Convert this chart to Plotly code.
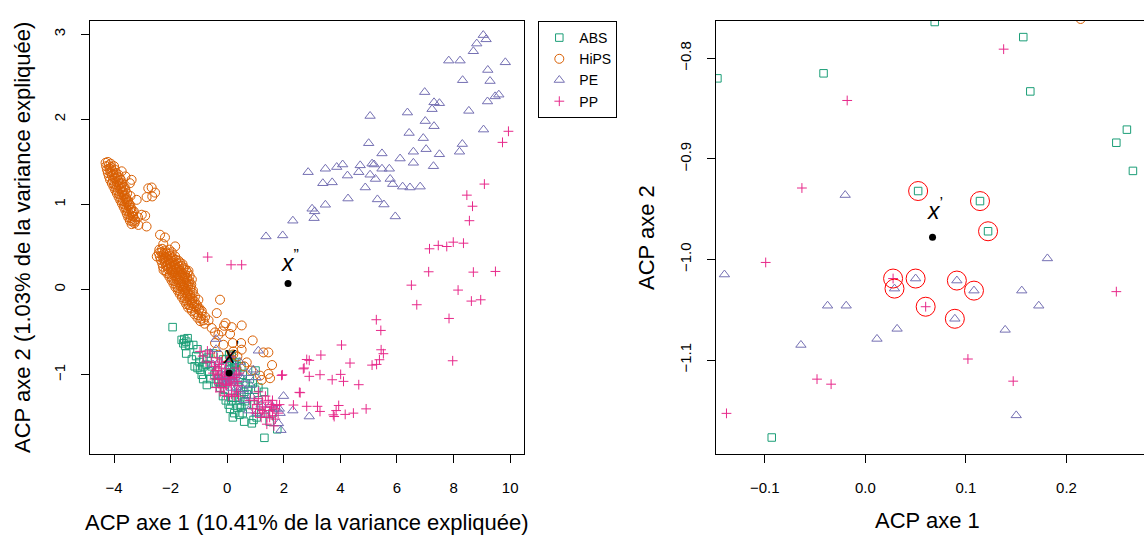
import plotly.graph_objects as go

# ---------------- data ----------------
CLASS_NAMES = ["ABS", "HiPS", "PE", "PP"]
CLASS_COLORS = ["#1B9E77", "#D95F02", "#7570B3", "#E7298A"]

ABS_PTS = [
    (-1.93, -0.44), (-1.61, -0.59), (-1.52, -0.58), (-1.45, -0.61), (-1.55, -0.63), (-1.40, -0.57),
    (-1.48, -0.66), (-1.35, -0.65), (-1.25, -0.82), (-0.98, -0.85), (-0.84, -0.82), (-0.72, -1.12),
    (-0.96, -0.94), (-0.66, -0.96), (-0.84, -0.90), (-1.10, -0.78), (-1.05, -0.92), (-0.90, -1.00),
    (-0.75, -0.88), (-0.60, -1.05), (-0.55, -0.90), (-0.45, -1.00), (-0.40, -1.10), (-0.35, -0.95),
    (-0.30, -1.05), (-0.25, -1.15), (-0.20, -1.10), (-0.31, -1.08), (0.10, -1.40), (0.43, -1.47),
    (0.36, -1.39), (0.45, -1.35), (0.63, -1.31), (0.87, -1.57), (1.77, -1.64), (1.315, -1.74),
    (0.985, -1.175), (0.18, -1.27), (0.33, -1.27), (0.50, -1.24), (0.69, -1.23), (0.93, -1.53),
    (1.04, -1.50), (0.75, -1.175), (0.35, -0.95), (0.45, -1.05), (0.55, -1.00), (0.65, -1.10),
    (0.40, -1.15), (0.32, -0.85), (0.50, -0.90), (0.80, -1.05), (0.90, -1.10), (0.60, -1.20),
    (0.15, -1.30), (0.05, -1.35), (0.25, -1.45), (0.55, -1.45), (0.60, -1.55), (0.50, -1.38),
    (1.10, -1.30), (1.20, -1.45), (1.50, -1.55), (1.60, -1.45), (0.70, -1.35), (0.95, -1.35),
    (-0.50, -0.75), (-0.15, -1.25), (-0.05, -1.30), (-0.65, -0.75), (-1.20, -0.65), (-1.05, -0.70),
    (-1.15, -0.90), (-0.85, -1.05), (-1.45, -0.75), (-0.70, -0.80), (1.00, -0.95), (1.10, -1.15),
    (1.30, -1.20), (0.20, -1.50),
    # points inside the zoom window
    (0.069, -0.764), (0.157, -0.779), (-0.147, -0.820), (-0.0415, -0.815), (0.164, -0.833),
    (0.260, -0.871), (0.2495, -0.884), (0.266, -0.912), (0.0525, -0.932), (0.114, -0.942),
    (0.122, -0.972), (-0.093, -1.177),
]

HIPS_PTS = [
    # upper band
    (-4.30, 1.49), (-4.22, 1.50), (-4.12, 1.48),
    (-4.28, 1.45), (-4.19, 1.46), (-4.10, 1.44), (-4.00, 1.45),
    (-4.25, 1.41), (-4.16, 1.42), (-4.07, 1.40), (-3.97, 1.41),
    (-4.22, 1.37), (-4.13, 1.38), (-4.03, 1.36), (-3.93, 1.37), (-3.84, 1.35),
    (-4.18, 1.33), (-4.08, 1.34), (-3.99, 1.32), (-3.89, 1.33), (-3.80, 1.31),
    (-4.14, 1.29), (-4.04, 1.28), (-3.95, 1.30), (-3.85, 1.28), (-3.76, 1.29),
    (-4.08, 1.25), (-3.99, 1.24), (-3.90, 1.26), (-3.80, 1.24), (-3.71, 1.25),
    (-4.02, 1.21), (-3.93, 1.20), (-3.84, 1.22), (-3.75, 1.20), (-3.66, 1.21),
    (-3.96, 1.17), (-3.87, 1.16), (-3.78, 1.18), (-3.69, 1.16), (-3.60, 1.17),
    (-3.90, 1.13), (-3.81, 1.12), (-3.72, 1.14), (-3.63, 1.12), (-3.54, 1.13),
    (-3.84, 1.09), (-3.75, 1.08), (-3.66, 1.10), (-3.57, 1.08),
    (-3.78, 1.05), (-3.69, 1.04), (-3.60, 1.06), (-3.51, 1.04),
    (-3.72, 1.01), (-3.63, 1.00), (-3.54, 1.02), (-3.45, 1.00),
    (-3.66, 0.97), (-3.57, 0.96), (-3.48, 0.98), (-3.40, 0.96),
    (-3.60, 0.93), (-3.51, 0.92), (-3.42, 0.94), (-3.34, 0.92),
    (-3.55, 0.89), (-3.46, 0.88), (-3.37, 0.90),
    (-3.50, 0.85), (-3.41, 0.84), (-3.32, 0.86),
    (-3.44, 0.81), (-3.35, 0.80), (-3.26, 0.82),
    (-3.38, 0.77), (-3.28, 0.78),
    # upper outliers
    (-3.73, 1.39), (-3.60, 1.33), (-3.38, 1.29), (-3.44, 1.25), (-3.20, 1.055), (-2.79, 1.19),
    (-2.67, 1.20), (-2.55, 1.14), (-2.65, 1.095), (-2.85, 1.087), (-2.90, 0.868), (-2.85, 0.742),
    (-3.02, 0.88), (-3.26, 0.80), (-3.14, 0.76), (-3.30, 0.92), (-3.55, 1.06), (-3.45, 1.00),
    (-3.35, 0.86), (-3.15, 0.85), (-3.62, 1.20), (-3.42, 1.10),
    # middle band
    (-2.40, 0.47), (-2.30, 0.48), (-2.20, 0.46), (-2.05, 0.47),
    (-2.42, 0.43), (-2.33, 0.44), (-2.24, 0.42), (-2.15, 0.43), (-2.05, 0.42), (-1.96, 0.44),
    (-2.38, 0.39), (-2.29, 0.40), (-2.20, 0.38), (-2.11, 0.39), (-2.02, 0.40), (-1.93, 0.38), (-1.84, 0.39),
    (-2.35, 0.35), (-2.26, 0.36), (-2.17, 0.34), (-2.08, 0.35), (-1.99, 0.36), (-1.90, 0.34), (-1.81, 0.35),
    (-1.72, 0.34),
    (-2.30, 0.31), (-2.21, 0.32), (-2.12, 0.30), (-2.03, 0.31), (-1.94, 0.32), (-1.85, 0.30), (-1.76, 0.31),
    (-1.67, 0.32), (-1.58, 0.30),
    (-2.27, 0.27), (-2.16, 0.28), (-2.07, 0.26), (-1.98, 0.27), (-1.89, 0.28), (-1.80, 0.26), (-1.71, 0.27),
    (-1.62, 0.28), (-1.53, 0.26),
    (-2.25, 0.23), (-2.18, 0.22), (-2.09, 0.24), (-2.00, 0.23), (-1.91, 0.22), (-1.82, 0.24), (-1.73, 0.23),
    (-1.64, 0.22), (-1.55, 0.24), (-1.46, 0.23), (-1.37, 0.22),
    (-2.12, 0.19), (-2.03, 0.18), (-1.94, 0.20), (-1.85, 0.19), (-1.76, 0.18), (-1.67, 0.20), (-1.58, 0.19),
    (-1.49, 0.18), (-1.40, 0.20),
    (-2.04, 0.15), (-1.95, 0.14), (-1.86, 0.16), (-1.77, 0.15), (-1.68, 0.14), (-1.59, 0.16), (-1.50, 0.15),
    (-1.41, 0.14), (-1.33, 0.16),
    (-1.97, 0.11), (-1.88, 0.10), (-1.79, 0.12), (-1.70, 0.11), (-1.61, 0.10), (-1.52, 0.12), (-1.43, 0.11),
    (-1.34, 0.10), (-1.25, 0.12),
    (-1.90, 0.07), (-1.81, 0.06), (-1.72, 0.08), (-1.63, 0.07), (-1.54, 0.06), (-1.45, 0.08), (-1.36, 0.07),
    (-1.27, 0.06),
    (-1.83, 0.03), (-1.74, 0.02), (-1.65, 0.04), (-1.56, 0.03), (-1.47, 0.02), (-1.38, 0.04), (-1.29, 0.03),
    (-1.75, -0.01), (-1.66, -0.02), (-1.57, 0.00), (-1.48, -0.01), (-1.39, -0.02), (-1.30, 0.00), (-1.21, -0.01),
    (-1.68, -0.05), (-1.58, -0.06), (-1.49, -0.04), (-1.40, -0.05), (-1.31, -0.06), (-1.22, -0.04),
    (-1.60, -0.09), (-1.50, -0.10), (-1.41, -0.08), (-1.32, -0.09), (-1.23, -0.10), (-1.14, -0.08),
    (-1.52, -0.13), (-1.42, -0.14), (-1.33, -0.12), (-1.24, -0.13), (-1.15, -0.14), (-1.02, -0.12),
    (-1.45, -0.17), (-1.35, -0.18), (-1.25, -0.16), (-1.16, -0.17), (-1.07, -0.18),
    (-1.38, -0.21), (-1.28, -0.22), (-1.18, -0.20), (-1.08, -0.21), (-0.98, -0.22),
    (-1.25, -0.25), (-1.12, -0.26), (-1.00, -0.24), (-0.90, -0.25),
    (-1.15, -0.29), (-1.02, -0.30), (-0.90, -0.28),
    (-1.05, -0.33), (-0.92, -0.34), (-0.78, -0.32),
    (-0.95, -0.37), (-0.84, -0.36), (-0.66, -0.36),
    # lower scattered
    (-2.375, 0.645), (-2.20, 0.613), (-2.26, 0.535), (-1.84, 0.508), (-2.49, 0.39), (-0.254, -0.118),
    (-0.37, -0.275), (-0.06, -0.393), (-0.11, -0.424), (0.16, -0.44), (0.513, -0.42), (-0.43, -0.502),
    (-0.31, -0.53), (-0.19, -0.49), (0.10, -0.52), (0.90, -0.596), (0.49, -0.627), (0.195, -0.627),
    (-0.135, -0.647), (1.28, -0.737), (1.455, -0.737), (0.22, -0.725), (0.69, -0.854), (1.585, -0.885),
    (1.455, -0.99), (1.515, -1.04), (1.22, -1.06), (0.51, -0.705), (0.36, -0.784), (-0.43, -0.627),
    (-0.31, -0.764), (1.16, -1.01), (0.85, -0.95), (0.60, -0.90), (-0.55, -0.45), (-0.80, -0.40),
    (0.214, -0.761),
]

PE_PTS = [
    (9.05, 2.99), (9.15, 2.94), (8.82, 2.89), (8.70, 2.80), (7.83, 2.69), (8.23, 2.69), (9.83, 2.67),
    (9.21, 2.58), (8.32, 2.46), (9.29, 2.45), (6.98, 2.32), (7.31, 2.20), (7.50, 2.19), (7.24, 2.12),
    (9.60, 2.29), (9.47, 2.27), (9.20, 2.21), (8.54, 2.10), (5.05, 2.04), (6.37, 2.08), (7.00, 1.98),
    (7.31, 1.92), (9.06, 1.88), (6.43, 1.84), (6.93, 1.78), (5.00, 1.72), (8.31, 1.71), (8.21, 1.62),
    (7.03, 1.65), (6.58, 1.62), (5.47, 1.60), (6.11, 1.54), (7.50, 1.59), (6.58, 1.49), (7.29, 1.45),
    (2.86, 1.38), (3.47, 1.42), (3.87, 1.44), (4.08, 1.47), (4.70, 1.46), (5.12, 1.48), (5.19, 1.47),
    (4.65, 1.38), (5.05, 1.35), (5.47, 1.42), (5.73, 1.42), (4.25, 1.34), (5.24, 1.30), (5.76, 1.30),
    (3.38, 1.25), (3.71, 1.26), (5.85, 1.24), (4.88, 1.20), (6.20, 1.21), (6.46, 1.20), (6.82, 1.21),
    (4.27, 1.07), (5.31, 1.06), (5.54, 1.00), (3.47, 0.997), (3.00, 0.95), (3.09, 0.92), (3.07, 0.84),
    (5.94, 0.86), (2.32, 0.81), (1.37, 0.625), (1.96, 0.637),
    # dense lower cluster
    (-0.39, -0.58), (-0.39, -0.70), (-0.30, -0.85), (1.10, -0.717), (0.45, -1.19), (0.57, -1.17),
    (1.99, -1.25), (2.32, -1.42), (2.90, -1.49), (1.81, -1.57), (1.02, -1.03), (0.925, -0.94),
    (0.69, -0.98), (0.40, -1.10), (0.81, -1.12), (1.87, -1.45), (1.55, -1.35), (1.70, -1.40),
    (0.55, -1.05), (0.35, -0.98), (0.60, -1.30), (1.20, -1.35), (1.35, -1.47), (1.90, -1.65),
    (0.33, -1.15), (1.84, -1.40), (0.85, -1.25), (0.45, -0.85), (-0.25, -1.00), (-0.50, -0.88),
    (0.75, -1.42), (1.05, -1.45),
    # points inside the zoom window
    (-0.140, -1.015), (-0.020, -0.936), (-0.0375, -1.046), (-0.019, -1.046), (-0.064, -1.085),
    (0.0116, -1.079), (0.0316, -1.069), (0.029, -1.029), (0.050, -1.019), (0.091, -1.021),
    (0.108, -1.031), (0.089, -1.059), (0.181, -0.999), (0.1555, -1.031), (0.1724, -1.046),
    (0.139, -1.070), (0.150, -1.155),
]

PP_PTS = [
    (-0.69, 0.383), (0.136, 0.292), (0.51, 0.292), (9.94, 1.86), (9.73, 1.73), (9.09, 1.24),
    (8.47, 1.11), (8.67, 0.98), (8.56, 0.81), (7.99, 0.558), (8.35, 0.546), (7.46, 0.52),
    (7.76, 0.507), (7.15, 0.48), (7.12, 0.21), (8.70, 0.206), (9.48, 0.214), (6.51, 0.053),
    (8.16, -0.005), (6.70, -0.177), (8.63, -0.134), (8.96, -0.119), (7.84, -0.338), (5.27, -0.353),
    (5.43, -0.479), (7.97, -0.835), (4.04, -0.65), (5.44, -0.706), (5.52, -0.752), (3.31, -0.768),
    (2.90, -0.83), (4.34, -0.862), (2.69, -0.93), (5.12, -0.886), (5.28, -0.878), (5.38, -0.823),
    (2.90, -1.018), (3.28, -0.999), (1.92, -1.007), (3.71, -1.058), (4.01, -0.995), (4.11, -1.077),
    (4.65, -1.116), (2.55, -1.206), (2.34, -1.355), (2.81, -1.37), (3.19, -1.37), (3.28, -1.43),
    (3.75, -1.47), (3.94, -1.36), (3.85, -1.42), (4.17, -1.465), (4.46, -1.45), (4.91, -1.40),
    (3.78, -1.49), (1.56, -1.38),
    # dense lower cluster
    (-0.96, -0.725), (-0.865, -0.78), (-0.60, -0.745), (-0.75, -0.85), (-0.55, -0.85), (-0.45, -0.90),
    (-0.40, -0.95), (-0.35, -1.00), (-0.30, -0.92), (-0.25, -1.05), (-0.20, -0.98), (-0.45, -1.05),
    (-0.50, -0.98), (-0.30, -1.10), (-0.22, -1.15), (-0.40, -1.15), (-0.28, -0.88), (-0.20, -0.85),
    (-0.35, -0.80), (-0.25, -1.20), (-0.18, -1.05), (0.32, -1.00), (0.35, -1.08), (0.31, -0.92),
    (0.38, -1.13), (0.33, -1.20), (0.42, -0.98), (0.05, -1.25), (0.15, -1.23), (-0.10, -1.24),
    (0.25, -1.25), (0.40, -1.25),
    (0.95, -1.30), (1.05, -1.35), (1.10, -1.28), (1.15, -1.40), (1.25, -1.32), (1.30, -1.45),
    (1.35, -1.38), (1.40, -1.50), (1.45, -1.30), (1.50, -1.42), (1.55, -1.35), (1.60, -1.48),
    (1.65, -1.40), (1.70, -1.52), (1.75, -1.36), (1.80, -1.45), (1.20, -1.50), (1.00, -1.45),
    (0.90, -1.40), (1.85, -1.35), (1.35, -1.25), (1.60, -1.30), (1.10, -1.20), (0.80, -1.30),
    (1.95, -1.00), (2.58, -1.21), (2.72, -0.92), (2.81, -0.82), (1.40, -1.58), (1.65, -1.60),
    (1.25, -1.42), (1.50, -1.50), (-0.70, -0.72),
    # points inside the zoom window
    (0.1375, -0.791), (-0.018, -0.842), (-0.063, -0.929), (-0.099, -1.003), (0.0276, -1.019),
    (0.060, -1.047), (0.102, -1.099), (0.2495, -1.032), (-0.048, -1.119), (-0.034, -1.124),
    (0.147, -1.121), (-0.138, -1.153),
]

# the 10 nearest neighbours of x' (circled in red on the right panel)
KNN_PTS = [
    (0.0525, -0.932), (0.114, -0.942), (0.122, -0.972), (0.0276, -1.019), (0.060, -1.047),
    (0.029, -1.029), (0.050, -1.019), (0.091, -1.021), (0.108, -1.031), (0.089, -1.059),
]

X_PRIME = (0.0668, -0.978)
X_SECOND = (2.15, 0.073)

LEFT_X_TICKS = [-4, -2, 0, 2, 4, 6, 8, 10]
LEFT_Y_TICKS = [-1, 0, 1, 2, 3]
RIGHT_X_TICKS = [-0.1, 0.0, 0.1, 0.2]
RIGHT_X_LABELS = ["\u22120.1", "0.0", "0.1", "0.2"]
RIGHT_Y_TICKS = [-1.1, -1.0, -0.9, -0.8]
RIGHT_Y_LABELS = ["\u22121.1", "\u22121.0", "\u22120.9", "\u22120.8"]

LEFT_XTITLE = "ACP axe 1 (10.41% de la variance expliquée)"
LEFT_YTITLE = "ACP axe 2 (1.03% de la variance expliquée)"
RIGHT_XTITLE = "ACP axe 1"
RIGHT_YTITLE = "ACP axe 2"

# ---------------- figure ----------------
W, H = 1144, 538
FONT = "Liberation Sans, Arial, Helvetica, sans-serif"

SYMBOLS = ["square-open", "circle-open", "triangle-up-open", "cross-thin-open"]
SIZES = [7.5, 9, 9, 7]
ALL_PTS = [ABS_PTS, HIPS_PTS, PE_PTS, PP_PTS]


def split(pts):
    return [p[0] for p in pts], [p[1] for p in pts]


fig = go.Figure()
for name, pts, col, sym, sz in zip(CLASS_NAMES, ALL_PTS, CLASS_COLORS, SYMBOLS, SIZES):
    xs, ys = split(pts)
    mk = dict(symbol=sym, size=sz, color=col, line=dict(width=1, color=col))
    fig.add_trace(go.Scatter(x=xs, y=ys, mode="markers", name=name, marker=mk,
                             xaxis="x", yaxis="y", legendgroup=name, showlegend=True))
    fig.add_trace(go.Scatter(x=xs, y=ys, mode="markers", name=name, marker=mk,
                             xaxis="x2", yaxis="y2", legendgroup=name, showlegend=False))

kx, ky = split(KNN_PTS)
fig.add_trace(go.Scatter(x=kx, y=ky, mode="markers", showlegend=False,
                         marker=dict(symbol="circle-open", size=19, color="red",
                                     line=dict(width=1, color="red")),
                         xaxis="x2", yaxis="y2"))

dot = dict(symbol="circle", size=7, color="black")
fig.add_trace(go.Scatter(x=[X_PRIME[0], X_SECOND[0]], y=[X_PRIME[1], X_SECOND[1]], mode="markers",
                         marker=dot, showlegend=False, xaxis="x", yaxis="y"))
fig.add_trace(go.Scatter(x=[X_PRIME[0]], y=[X_PRIME[1]], mode="markers",
                         marker=dot, showlegend=False, xaxis="x2", yaxis="y2"))

ydom = [1 - 454 / H, 1 - 20.6 / H]
axis_common = dict(showgrid=False, zeroline=False, showline=True, linecolor="black", linewidth=1,
                   ticks="outside", ticklen=8, tickwidth=1, tickcolor="black",
                   tickfont=dict(size=15, color="black", family=FONT))

fig.update_layout(
    width=W, height=H,
    margin=dict(l=0, r=0, t=0, b=0),
    paper_bgcolor="white", plot_bgcolor="white",
    font=dict(family=FONT, color="black"),
    xaxis=dict(domain=[90 / W, 524 / W], range=[-4.85, 10.49], tickvals=LEFT_X_TICKS,
               anchor="y", mirror=True, ticklabelstandoff=12, **axis_common),
    yaxis=dict(domain=ydom, range=[-1.93, 3.16], tickvals=LEFT_Y_TICKS, tickangle=-90,
               anchor="x", mirror=True, ticklabelstandoff=10, **axis_common),
    xaxis2=dict(domain=[715.6 / W, 1.0], range=[-0.1488, 0.2770], tickvals=RIGHT_X_TICKS,
                ticktext=RIGHT_X_LABELS, anchor="y2", mirror=True, ticklabelstandoff=12,
                **axis_common),
    yaxis2=dict(domain=ydom, range=[-1.1934, -0.7626], tickvals=RIGHT_Y_TICKS,
                ticktext=RIGHT_Y_LABELS, tickangle=-90, anchor="x2", mirror=False,
                ticklabelstandoff=10, **axis_common),
    legend=dict(x=538.3 / W, y=1 - 21 / H, xanchor="left", yanchor="top",
                bordercolor="black", borderwidth=1, bgcolor="white",
                font=dict(size=14, family=FONT, color="black"), tracegroupgap=0, itemwidth=30),
    showlegend=True,
)

title_font = dict(size=22, family=FONT, color="black")
annotations = [
    dict(x=307 / W, y=1 - 522 / H, xref="paper", yref="paper", text=LEFT_XTITLE, showarrow=False,
         font=title_font, xanchor="center", yanchor="middle"),
    dict(x=22 / W, y=1 - 238 / H, xref="paper", yref="paper", text=LEFT_YTITLE, showarrow=False,
         font=title_font, xanchor="center", yanchor="middle", textangle=-90),
    dict(x=927.5 / W, y=1 - 520 / H, xref="paper", yref="paper", text=RIGHT_XTITLE, showarrow=False,
         font=title_font, xanchor="center", yanchor="middle"),
    dict(x=646 / W, y=1 - 238 / H, xref="paper", yref="paper", text=RIGHT_YTITLE, showarrow=False,
         font=title_font, xanchor="center", yanchor="middle", textangle=-90),
]
lab_font = dict(size=23, family=FONT, color="black")
annotations += [
    dict(x=X_PRIME[0], y=X_PRIME[1], xref="x", yref="y", text="<i>x</i><sup>\u2019</sup>",
         showarrow=False, font=lab_font, xanchor="center", yanchor="bottom", yshift=3, xshift=2),
    dict(x=X_SECOND[0], y=X_SECOND[1], xref="x", yref="y", text="<i>x</i><sup>\u201d</sup>",
         showarrow=False, font=lab_font, xanchor="center", yanchor="bottom", yshift=5, xshift=2),
    dict(x=X_PRIME[0], y=X_PRIME[1], xref="x2", yref="y2", text="<i>x</i><sup>\u2019</sup>",
         showarrow=False, font=lab_font, xanchor="center", yanchor="bottom", yshift=11, xshift=2),
]
fig.update_layout(annotations=annotations)

# remove the default 8px page margin so the figure sits at the window's top-left corner
fig.write_html("out.html", config={"displayModeBar": False},
               post_script="document.body.style.margin='0px';")
